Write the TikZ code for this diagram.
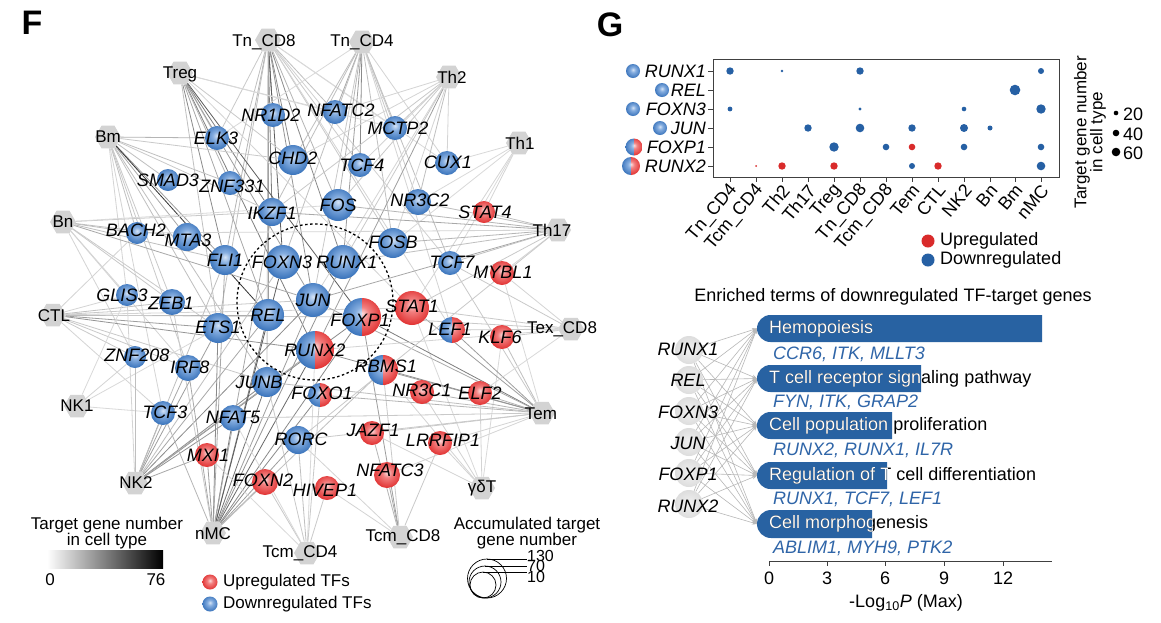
\documentclass[tikz,border=0pt]{standalone}
\usepackage{fontspec}
\setmainfont{Liberation Sans}
\usetikzlibrary{shapes.geometric,arrows.meta}
\definecolor{bl0}{HTML}{D6E4F6}
\definecolor{bl1}{HTML}{86AEE0}
\definecolor{bl2}{HTML}{3570B9}
\definecolor{bl3}{HTML}{245496}
\definecolor{rd0}{HTML}{FCDCDC}
\definecolor{rd1}{HTML}{F28080}
\definecolor{rd2}{HTML}{E02E2E}
\definecolor{rd3}{HTML}{C41C1C}
\definecolor{gy0}{HTML}{F2F2F2}
\definecolor{gy1}{HTML}{C8C8C8}
\definecolor{hexg}{HTML}{D3D3D3}
\definecolor{dotblue}{HTML}{2660A4}
\definecolor{dotred}{HTML}{D92B2B}
\definecolor{barblue}{HTML}{2862A2}
\definecolor{gtext}{HTML}{2F65A8}
\pgfdeclareradialshading{bsph}{\pgfpoint{0bp}{5bp}}{color(0bp)=(bl0); color(9bp)=(bl1); color(28bp)=(bl2); color(50bp)=(bl3)}
\pgfdeclareradialshading{rsph}{\pgfpoint{0bp}{5bp}}{color(0bp)=(rd0); color(9bp)=(rd1); color(28bp)=(rd2); color(50bp)=(rd3)}
\pgfdeclareradialshading{gsph}{\pgfpoint{0bp}{0bp}}{color(0bp)=(gy0); color(50bp)=(gy1)}
\pgfdeclarelayer{back}
\pgfdeclarelayer{bg}
\pgfsetlayers{back,bg,main}
\tikzset{
  hexn/.style={regular polygon, regular polygon sides=6, fill=hexg, inner sep=0pt, minimum size=26pt},
  clab/.style={font=\fontsize{17}{17}\selectfont, inner sep=0pt},
  glab/.style={font=\fontsize{18}{18}\selectfont\itshape, inner sep=0pt},
  tfb/.style={circle, inner sep=0pt, shade, shading=bsph},
  tfr/.style={circle, inner sep=0pt, shade, shading=rsph},
  tfg/.style={circle, inner sep=0pt, shade, shading=gsph},
  tfs/.style={circle, inner sep=0pt, path picture={
     \begin{scope}
       \clip (path picture bounding box.south west) rectangle (path picture bounding box.north);
       \shade[shading=bsph] (path picture bounding box.south west) rectangle (path picture bounding box.north east);
     \end{scope}
     \begin{scope}
       \clip (path picture bounding box.south) rectangle (path picture bounding box.north east);
       \shade[shading=rsph] (path picture bounding box.south west) rectangle (path picture bounding box.north east);
     \end{scope}}},
  edge/.style={line width=0.8pt},
  txt/.style={font=\fontsize{17}{17}\selectfont, inner sep=0pt},
  gtxt/.style={font=\fontsize{18}{18}\selectfont, inner sep=0pt},
  term/.style={font=\fontsize{18}{18}\selectfont, inner sep=0pt, text height=13pt, text depth=4pt},
  glist/.style={font=\fontsize{18}{18}\selectfont\itshape, text=gtext, inner sep=0pt},
  garrow/.style={draw=black!28, line width=0.6pt, -{Stealth[length=5pt,width=4pt]}},
}
\begin{document}
\begin{tikzpicture}[x=1pt,y=-1pt]
\useasboundingbox (0,0) rectangle (1161,622);
\begin{pgfonlayer}{back}
\fill[white] (0,0) rectangle (1161,622);
\end{pgfonlayer}

% ---------------- Panel F ----------------
\node[font=\fontsize{34}{34}\selectfont\bfseries, inner sep=0pt] (Flab) at (32,23) {F};

% cell types
\node[hexn] (TnCD8) at (268,40) {};
\node[hexn] (TnCD4) at (362,42) {};
\node[hexn] (Treg) at (180,73) {};
\node[hexn] (Th2) at (449,77) {};
\node[hexn] (Th1) at (519,143) {};
\node[hexn] (Bm) at (108,137) {};
\node[hexn] (Bn) at (63,222) {};
\node[hexn] (Th17) at (558,230) {};
\node[hexn] (CTL) at (53,315) {};
\node[hexn] (TexCD8) at (571,329) {};
\node[hexn] (NK1) at (77,406) {};
\node[hexn] (Tem) at (542,413) {};
\node[hexn] (gdT) at (482,488) {};
\node[hexn] (NK2) at (135,483) {};
\node[hexn] (nMC) at (213,533) {};
\node[hexn] (TcmCD4) at (307,553) {};
\node[hexn] (TcmCD8) at (400,537) {};

% TFs
\node[tfb, minimum size=24pt] (NR1D2) at (273,115) {};
\node[tfb, minimum size=24pt] (NFATC2) at (335,112) {};
\node[tfb, minimum size=24pt] (MCTP2) at (395,128) {};
\node[tfb, minimum size=24pt] (ELK3) at (217,138) {};
\node[tfb, minimum size=30pt] (CHD2) at (293,160) {};
\node[tfb, minimum size=24pt] (TCF4) at (360,165) {};
\node[tfb, minimum size=24pt] (CUX1) at (447,163) {};
\node[tfb, minimum size=22pt] (SMAD3) at (168,180) {};
\node[tfb, minimum size=24pt] (ZNF331) at (230,183) {};
\node[tfb, minimum size=28pt] (IKZF1) at (272,212) {};
\node[tfb, minimum size=32pt] (FOS) at (338,205) {};
\node[tfb, minimum size=26pt] (NR3C2) at (418,202) {};
\node[tfr, minimum size=22pt] (STAT4) at (484,212) {};
\node[tfb, minimum size=22pt] (BACH2) at (137,233) {};
\node[tfb, minimum size=28pt] (MTA3) at (187,237) {};
\node[tfb, minimum size=30pt] (FLI1) at (225,260) {};
\node[tfb, minimum size=34pt] (FOXN3) at (283,262) {};
\node[tfb, minimum size=34pt] (RUNX1) at (343,262) {};
\node[tfb, minimum size=30pt] (FOSB) at (393,243) {};
\node[tfb, minimum size=24pt] (TCF7) at (450,263) {};
\node[tfr, minimum size=24pt] (MYBL1) at (502,273) {};
\node[tfb, minimum size=22pt] (GLIS3) at (127,295) {};
\node[tfb, minimum size=26pt] (ZEB1) at (172,302) {};
\node[tfb, minimum size=32pt] (REL) at (268,315) {};
\node[tfb, minimum size=34pt] (JUN) at (313,300) {};
\node[tfs, minimum size=38pt] (FOXP1) at (362,317) {};
\node[tfr, minimum size=34pt] (STAT1) at (412,308) {};
\node[tfs, minimum size=26pt] (LEF1) at (452,330) {};
\node[tfr, minimum size=24pt] (KLF6) at (502,337) {};
\node[tfb, minimum size=30pt] (ETS1) at (218,328) {};
\node[tfb, minimum size=22pt] (ZNF208) at (135,357) {};
\node[tfb, minimum size=26pt] (IRF8) at (188,368) {};
\node[tfs, minimum size=38pt] (RUNX2) at (315,350) {};
\node[tfs, minimum size=30pt] (RBMS1) at (383,370) {};
\node[tfb, minimum size=30pt] (JUNB) at (267,382) {};
\node[tfs, minimum size=24pt] (FOXO1) at (320,395) {};
\node[tfr, minimum size=24pt] (NR3C1) at (422,392) {};
\node[tfr, minimum size=24pt] (ELF2) at (480,393) {};
\node[tfb, minimum size=24pt] (TCF3) at (163,413) {};
\node[tfb, minimum size=26pt] (NFAT5) at (233,418) {};
\node[tfb, minimum size=28pt] (RORC) at (298,440) {};
\node[tfr, minimum size=24pt] (JAZF1) at (372,433) {};
\node[tfr, minimum size=24pt] (LRRFIP1) at (440,443) {};
\node[tfr, minimum size=24pt] (MXI1) at (207,455) {};
\node[tfr, minimum size=26pt] (FOXN2) at (265,482) {};
\node[tfr, minimum size=24pt] (HIVEP1) at (327,488) {};
\node[tfr, minimum size=26pt] (NFATC3) at (387,475) {};

% focus circle
\node[circle, draw, dash pattern=on 2.5pt off 2.5pt, line width=1.3pt, minimum size=156pt, inner sep=0pt] (focus) at (315,302) {};

% edges
\begin{pgfonlayer}{bg}
\foreach \a/\b/\c in {
 TnCD8/NR1D2/70, TnCD8/CHD2/55, TnCD8/IKZF1/60, TnCD8/FOXN3/75, TnCD8/REL/45, TnCD8/JUN/50, TnCD8/RUNX1/55, TnCD8/FLI1/35, TnCD8/ETS1/30, TnCD8/JUNB/30, TnCD8/NFATC2/30, TnCD8/TCF4/25, TnCD8/FOS/35, TnCD8/FOSB/25, TnCD8/TCF7/22, TnCD8/LEF1/20, TnCD8/MCTP2/18, TnCD8/CUX1/18, TnCD8/ELK3/25, TnCD8/ZNF331/30,
 TnCD4/NFATC2/40, TnCD4/TCF4/55, TnCD4/FOS/35, TnCD4/RUNX1/45, TnCD4/FOSB/30, TnCD4/MCTP2/25, TnCD4/CUX1/20, TnCD4/TCF7/30, TnCD4/NR3C2/25, TnCD4/ELK3/18, TnCD4/CHD2/30, TnCD4/JUN/25, TnCD4/FOXN3/30, TnCD4/LEF1/20, TnCD4/IKZF1/30,
 Treg/ELK3/30, Treg/CHD2/25, Treg/IKZF1/60, Treg/FLI1/55, Treg/REL/40, Treg/FOXP1/75, Treg/RUNX2/60, Treg/JUN/45, Treg/NFATC2/20, Treg/MCTP2/18, Treg/ETS1/30, Treg/ZNF331/35, Treg/STAT1/20,
 Th2/NFATC2/20, Th2/MCTP2/25, Th2/TCF4/20, Th2/CUX1/20, Th2/FOS/25, Th2/RUNX1/25, Th2/RUNX2/45, Th2/IKZF1/25, Th2/CHD2/20, Th2/NR3C2/30, Th2/FOSB/20, Th2/JUN/20,
 Th1/STAT4/20, Th1/STAT1/20, Th1/FOSB/18, Th1/TCF7/18, Th1/CUX1/18, Th1/NR3C2/18,
 Bm/ELK3/35, Bm/CHD2/25, Bm/SMAD3/30, Bm/ZNF331/30, Bm/MTA3/40, Bm/BACH2/30, Bm/ZEB1/25, Bm/GLIS3/20, Bm/IRF8/25, Bm/FLI1/45, Bm/REL/95, Bm/ETS1/30, Bm/JUNB/30, Bm/TCF3/20, Bm/IKZF1/25,
 Bn/IKZF1/25, Bn/MTA3/30, Bn/BACH2/30, Bn/FLI1/30, Bn/ZEB1/25, Bn/ETS1/25, Bn/ZNF208/20, Bn/JUN/40, Bn/GLIS3/20, Bn/IRF8/20, Bn/FOS/18,
 CTL/ZEB1/30, CTL/REL/40, CTL/ETS1/45, CTL/RUNX2/50, CTL/JUN/25, CTL/ZNF208/25, CTL/IRF8/25, CTL/GLIS3/20, CTL/BACH2/20, CTL/TCF3/20, CTL/STAT1/20, CTL/FOXP1/25, CTL/JUNB/25,
 NK1/GLIS3/18, NK1/ZNF208/20, NK1/ETS1/18, NK1/TCF3/18,
 NK2/TCF3/45, NK2/IRF8/40, NK2/ZNF208/30, NK2/ETS1/45, NK2/JUN/55, NK2/FOXP1/55, NK2/FOXN3/30, NK2/NFAT5/50, NK2/JUNB/55, NK2/MXI1/40, NK2/REL/40, NK2/GLIS3/20, NK2/RUNX2/40, NK2/FLI1/30,
 nMC/MXI1/45, nMC/NFAT5/60, nMC/JUNB/65, nMC/ETS1/55, nMC/REL/60, nMC/FOXN3/75, nMC/FOXP1/55, nMC/RUNX1/50, nMC/RUNX2/70, nMC/FOXO1/55, nMC/FOXN2/40, nMC/RORC/45, nMC/IRF8/40, nMC/TCF3/35, nMC/JUN/45, nMC/FLI1/40, nMC/IKZF1/40, nMC/ZEB1/25, nMC/RBMS1/30,
 TcmCD4/HIVEP1/25, TcmCD4/FOXN2/25, TcmCD4/RORC/30, TcmCD4/RUNX2/18, TcmCD4/MXI1/18, TcmCD4/JUNB/25, TcmCD4/NFAT5/18, TcmCD4/FOXO1/25,
 TcmCD8/NFATC3/40, TcmCD8/JAZF1/35, TcmCD8/LRRFIP1/25, TcmCD8/FOXP1/45, TcmCD8/RORC/20, TcmCD8/HIVEP1/20, TcmCD8/RBMS1/25,
 gdT/LRRFIP1/20, gdT/NR3C1/20, gdT/ELF2/20, gdT/KLF6/18, gdT/JAZF1/20, gdT/STAT1/18, gdT/RBMS1/20,
 Tem/ELF2/35, Tem/NR3C1/35, Tem/RBMS1/45, Tem/FOXP1/60, Tem/LEF1/45, Tem/KLF6/30, Tem/RUNX2/50, Tem/JUN/40, Tem/STAT1/45, Tem/FOXO1/35, Tem/JAZF1/25, Tem/LRRFIP1/20, Tem/NFATC3/20, Tem/RORC/25, Tem/TCF7/25, Tem/JUNB/30, Tem/MYBL1/18, Tem/NFAT5/25,
 TexCD8/KLF6/25, TexCD8/LEF1/25, TexCD8/STAT1/25, TexCD8/MYBL1/20, TexCD8/TCF7/25, TexCD8/FOXP1/25, TexCD8/ELF2/18, TexCD8/RUNX2/20,
 Th17/STAT4/30, Th17/NR3C2/30, Th17/FOSB/35, Th17/JUN/40, Th17/TCF7/30, Th17/RUNX1/30, Th17/FOS/35, Th17/MYBL1/20, Th17/IKZF1/40, Th17/RORC/25, Th17/STAT1/25, Th17/BACH2/20}
 {\pgfmathtruncatemacro\cc{\c*0.85}
  \draw[edge, draw=black!\cc] (\a) -- (\b);}
\end{pgfonlayer}

% cell type labels
\node[clab] (TnCD8l) at (264,42) {Tn\_CD8};
\node[clab] (TnCD4l) at (362,42) {Tn\_CD4};
\node[clab] (Tregl) at (180,74) {Treg};
\node[clab] (Th2l) at (452,77) {Th2};
\node[clab] (Th1l) at (520,143) {Th1};
\node[clab] (Bml) at (108,137) {Bm};
\node[clab] (Bnl) at (63,222) {Bn};
\node[clab] (Th17l) at (552,230) {Th17};
\node[clab] (CTLl) at (54,316) {CTL};
\node[clab] (TexCD8l) at (562,329) {Tex\_CD8};
\node[clab] (NK1l) at (77,406) {NK1};
\node[clab] (Teml) at (541,414) {Tem};
\node[clab] (gdTl) at (482,488) {γδT};
\node[clab] (NK2l) at (136,483) {NK2};
\node[clab] (nMCl) at (213,534) {nMC};
\node[clab] (TcmCD4l) at (300,553) {Tcm\_CD4};
\node[clab] (TcmCD8l) at (403,537) {Tcm\_CD8};

% TF labels
\node[glab] (NR1D2l) at (271,115) {NR1D2};
\node[glab] (NFATC2l) at (341,110) {NFATC2};
\node[glab] (MCTP2l) at (398,128) {MCTP2};
\node[glab] (ELK3l) at (216,138) {ELK3};
\node[glab] (CHD2l) at (293,158) {CHD2};
\node[glab] (TCF4l) at (362,165) {TCF4};
\node[glab] (CUX1l) at (448,162) {CUX1};
\node[glab] (SMAD3l) at (168,180) {SMAD3};
\node[glab] (ZNF331l) at (232,186) {ZNF331};
\node[glab] (IKZF1l) at (272,213) {IKZF1};
\node[glab] (FOSl) at (338,205) {FOS};
\node[glab] (NR3C2l) at (420,200) {NR3C2};
\node[glab] (STAT4l) at (485,212) {STAT4};
\node[glab] (BACH2l) at (136,230) {BACH2};
\node[glab] (MTA3l) at (188,240) {MTA3};
\node[glab] (FLI1l) at (225,260) {FLI1};
\node[glab] (FOXN3l) at (282,262) {FOXN3};
\node[glab] (RUNX1l) at (347,262) {RUNX1};
\node[glab] (FOSBl) at (393,242) {FOSB};
\node[glab] (TCF7l) at (452,262) {TCF7};
\node[glab] (MYBL1l) at (503,272) {MYBL1};
\node[glab] (GLIS3l) at (122,295) {GLIS3};
\node[glab] (ZEB1l) at (171,303) {ZEB1};
\node[glab] (RELl) at (268,315) {REL};
\node[glab] (JUNl) at (313,300) {JUN};
\node[glab] (FOXP1l) at (360,320) {FOXP1};
\node[glab] (STAT1l) at (412,306) {STAT1};
\node[glab] (LEF1l) at (450,329) {LEF1};
\node[glab] (KLF6l) at (500,337) {KLF6};
\node[glab] (ETS1l) at (218,327) {ETS1};
\node[glab] (ZNF208l) at (137,355) {ZNF208};
\node[glab] (IRF8l) at (190,367) {IRF8};
\node[glab] (RUNX2l) at (315,350) {RUNX2};
\node[glab] (RBMS1l) at (386,366) {RBMS1};
\node[glab] (JUNBl) at (259,382) {JUNB};
\node[glab] (FOXO1l) at (322,393) {FOXO1};
\node[glab] (NR3C1l) at (422,390) {NR3C1};
\node[glab] (ELF2l) at (480,393) {ELF2};
\node[glab] (TCF3l) at (165,412) {TCF3};
\node[glab] (NFAT5l) at (233,417) {NFAT5};
\node[glab] (RORCl) at (301,439) {RORC};
\node[glab] (JAZF1l) at (373,430) {JAZF1};
\node[glab] (LRRFIP1l) at (443,440) {LRRFIP1};
\node[glab] (MXI1l) at (208,455) {MXI1};
\node[glab] (FOXN2l) at (263,480) {FOXN2};
\node[glab] (HIVEP1l) at (325,490) {HIVEP1};
\node[glab] (NFATC3l) at (390,470) {NFATC3};

% legends panel F
\node[txt] (lg1) at (107,525) {Target gene number};
\node[txt] (lg2) at (107,541) {in cell type};
\shade[left color=white, right color=black] (47,550) rectangle (163,568);
\node[txt] (lg0) at (50,580) {0};
\node[txt] (lg76) at (156,580) {76};
\node[tfr, minimum size=15pt] (lgup) at (210,582) {};
\node[txt, anchor=west] (lguptxt) at (223,582) {Upregulated TFs};
\node[tfb, minimum size=15pt] (lgdn) at (210,604) {};
\node[txt, anchor=west] (lgdntxt) at (223,604) {Downregulated TFs};
\node[txt] (acc1) at (527,525) {Accumulated target};
\node[txt] (acc2) at (527,541) {gene number};
\draw[line width=0.7pt] (487,578.5) circle (19.5);
\draw[line width=0.7pt] (485,582) circle (16);
\draw[line width=0.7pt] (483,585) circle (13);
\draw[line width=0.7pt] (487,559) -- (527,559);
\draw[line width=0.7pt] (485,566) -- (527,566);
\draw[line width=0.7pt] (483,572) -- (527,572);
\node[font=\fontsize{16}{16}\selectfont, inner sep=0pt, anchor=west] (acc130) at (527,556) {130};
\node[font=\fontsize{16}{16}\selectfont, inner sep=0pt, anchor=west] (acc70) at (527,566) {70};
\node[font=\fontsize{16}{16}\selectfont, inner sep=0pt, anchor=west] (acc10) at (527,577) {10};

% ---------------- Panel G ----------------
\node[font=\fontsize{34}{34}\selectfont\bfseries, inner sep=0pt] (Glab) at (610,25) {G};
\draw[line width=0.8pt, black!75] (713,59) rectangle (1059,177);
\foreach \y in {71,90,109,128,147,166} \draw[line width=0.8pt, black!75] (708,\y) -- (713,\y);
\foreach \x/\t in {730/Tn\_CD4,756/Tcm\_CD4,782/Th2,808/Th17,834/Treg,860/Tn\_CD8,886/Tcm\_CD8,912/Tem,938/CTL,964/NK2,990/Bn,1015/Bm,1041/nMC} {
  \draw[line width=0.8pt, black!75] (\x,177) -- (\x,182);
  \node[gtxt, rotate=50, anchor=east] (col\x) at (\x+4,187) {\t};
}
% row labels
\node[glab, anchor=east] (rR1) at (706,71) {RUNX1};
\node[glab, anchor=east] (rREL) at (706,90) {REL};
\node[glab, anchor=east] (rFN3) at (706,109) {FOXN3};
\node[glab, anchor=east] (rJUN) at (706,128) {JUN};
\node[glab, anchor=east] (rFP1) at (706,147) {FOXP1};
\node[glab, anchor=east] (rR2) at (706,166) {RUNX2};
\node[tfb, minimum size=14pt] (iR1) at (633,71) {};
\node[tfb, minimum size=14pt] (iREL) at (662,90) {};
\node[tfb, minimum size=14pt] (iFN3) at (633,109) {};
\node[tfb, minimum size=14pt] (iJUN) at (660,128) {};
\node[tfs, minimum size=17pt] (iFP1) at (634,147) {};
\node[tfs, minimum size=18pt] (iR2) at (631,166) {};
% dots
\foreach \x/\y/\r in {730/71/3.7, 782/71/1.4, 860/71/3.7, 1041/71/3.0,
  1015/90/5.3,
  730/109/2.4, 860/109/1.7, 964/109/2.3, 1041/109/4.7,
  808/128/3.7, 860/128/4.3, 912/128/3.7, 964/128/4.0, 990/128/2.5,
  834/147/4.7, 886/147/3.3, 964/147/3.3, 1041/147/3.3,
  912/166/3.0, 1041/166/4.3}
  \fill[dotblue] (\x,\y) circle (\r);
\foreach \x/\y/\r in {912/147/3.3, 756/166/1.0, 782/166/3.7, 834/166/3.7, 938/166/3.7}
  \fill[dotred] (\x,\y) circle (\r);
% legend dots
\fill[dotred] (928,241) circle (6.5);
\node[gtxt, anchor=west] (upG) at (940,241) {Upregulated};
\fill[dotblue] (928,260) circle (6.5);
\node[gtxt, anchor=west] (dnG) at (940,260) {Downregulated};
\node[txt, rotate=90] (szt1) at (1082,132) {Target gene number};
\node[txt, rotate=90] (szt2) at (1098,132) {in cell type};
\fill (1116,113) circle (2.3);
\fill (1116,133) circle (3.3);
\fill (1116,152) circle (4.3);
\node[gtxt, anchor=west] (sz20) at (1123,114) {20};
\node[gtxt, anchor=west] (sz40) at (1123,134) {40};
\node[gtxt, anchor=west] (sz60) at (1123,153) {60};

% enrichment
\node[gtxt] (entitle) at (893,297) {Enriched terms of downregulated TF-target genes};
\foreach \i/\yt/\yb/\xr/\txt in {1/315/342/1042/Hemopoiesis, 2/365/392/921/T cell receptor signaling pathway, 3/412/439/892/Cell population proliferation, 4/462/489/887/Regulation of T cell differentiation, 5/510/538/872/Cell morphogenesis} {
  \pgfmathsetmacro\yc{(\yt+\yb)/2}
  \pgfmathsetmacro\rr{(\yb-\yt)/2}
  \fill[barblue] (757+\rr,\yt) arc (270:90:\rr) -- (\xr,\yb) -- (\xr,\yt) -- cycle;
  \coordinate (bar\i) at (757,\yc);
  \node[term, anchor=west] (term\i) at (769,\yc) {\txt};
  \begin{scope}
    \clip (757+\rr,\yt) arc (270:90:\rr) -- (\xr,\yb) -- (\xr,\yt) -- cycle;
    \node[term, anchor=west, text=white] (termw\i) at (769,\yc) {\txt};
  \end{scope}
}
\node[glist, anchor=west] (gl1) at (773,354) {CCR6, ITK, MLLT3};
\node[glist, anchor=west] (gl2) at (773,402) {FYN, ITK, GRAP2};
\node[glist, anchor=west] (gl3) at (773,450) {RUNX2, RUNX1, IL7R};
\node[glist, anchor=west] (gl4) at (773,499) {RUNX1, TCF7, LEF1};
\node[glist, anchor=west] (gl5) at (773,548) {ABLIM1, MYH9, PTK2};

% genes on the left
\node[tfg, minimum size=28pt] (gR1) at (689,350) {};
\node[tfg, minimum size=28pt] (gREL) at (689,380) {};
\node[tfg, minimum size=28pt] (gFN3) at (689,411) {};
\node[tfg, minimum size=28pt] (gJUN) at (689,442) {};
\node[tfg, minimum size=28pt] (gFP1) at (689,473) {};
\node[tfg, minimum size=28pt] (gR2) at (689,504) {};
\begin{pgfonlayer}{bg}
\foreach \g in {gR1,gREL,gFN3,gJUN,gFP1,gR2}
  \foreach \b in {1,2,3,4,5}
    \draw[garrow] (\g) -- (bar\b);
\end{pgfonlayer}
\node[glab] (gR1l) at (688,349) {RUNX1};
\node[glab] (gRELl) at (688,380) {REL};
\node[glab] (gFN3l) at (688,412) {FOXN3};
\node[glab] (gJUNl) at (688,443) {JUN};
\node[glab] (gFP1l) at (688,474) {FOXP1};
\node[glab] (gR2l) at (688,506) {RUNX2};

% axis
\draw[line width=0.8pt, black!75] (769,561) -- (1052,561);
\foreach \x/\t in {769/0, 827/3, 885/6, 944/9, 1003/12} {
  \draw[line width=0.8pt, black!75] (\x,561) -- (\x,566);
  \node[gtxt] (ax\t) at (\x,578) {\t};
}
\node[gtxt] (axlab) at (906,603) {-Log\textsubscript{10}\textit{P} (Max)};
\end{tikzpicture}
\end{document}
